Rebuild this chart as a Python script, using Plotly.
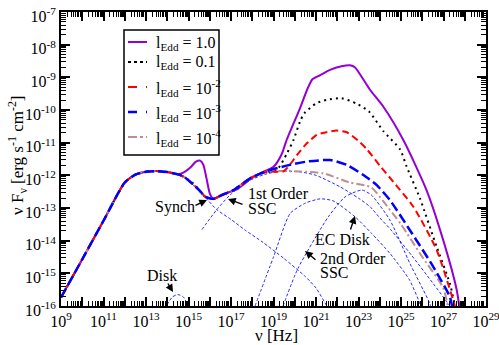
import numpy as np
import plotly.graph_objects as go

# ---------------- data (log10 nu [Hz], log10 nuFnu [erg s^-1 cm^-2]) ----------------
low_lognu = [9.0, 10.0, 11.0, 12.0, 12.5, 13.0, 13.5, 14.0, 14.5]
low_logf = [-15.74, -14.57, -13.39, -12.22, -11.98, -11.89, -11.87, -11.9, -11.97]

l1_lognu = [14.8, 15.1, 15.35, 15.55, 15.7, 15.85, 16.0, 16.17, 16.6, 17.27, 17.9, 18.37, 19.0, 19.4,
            19.6, 20.25, 20.6, 20.83, 21.2, 21.66, 22.2, 22.6, 22.84, 23.54, 24.17, 25.11, 26.2,
            26.99, 27.62, 27.74]
l1_logf = [-11.9, -11.75, -11.58, -11.55, -11.68, -12.1, -12.55, -12.72, -12.58, -12.43, -12.12, -11.94,
           -11.74, -11.33, -10.95, -9.94, -9.35, -9.06, -8.93, -8.77, -8.66, -8.63, -8.70, -9.38, -9.9,
           -10.92, -12.45, -13.99, -15.5, -16.0]

l01_lognu = [14.8, 15.23, 15.5, 15.78, 16.17, 16.6, 17.12, 17.9, 18.5, 19.15, 19.63, 19.94, 20.25,
             20.45, 21.0, 21.5, 22.2, 22.9, 23.5, 24.17, 24.95, 25.27, 25.89, 26.68, 27.3, 27.54]
l01_logf = [-12.06, -12.25, -12.45, -12.65, -12.72, -12.6, -12.45, -12.09, -11.93, -11.84, -11.33,
            -10.92, -10.35, -10.1, -9.8, -9.69, -9.64, -9.8, -10.05, -10.65, -11.2, -11.74, -12.7,
            -14.19, -15.31, -16.0]

l2_lognu = [14.8, 15.2, 15.5, 15.8, 16.17, 16.6, 17.12, 17.9, 18.68, 19.47, 19.8, 20.1, 20.57, 21.04,
            21.5, 21.98, 22.45, 23.0, 23.39, 24.0, 24.64, 25.58, 26.68, 27.54]
l2_logf = [-12.05, -12.27, -12.45, -12.66, -12.72, -12.6, -12.45, -12.09, -11.89, -11.88, -11.65,
           -11.38, -11.02, -10.76, -10.68, -10.63, -10.68, -10.95, -11.2, -11.7, -12.2, -12.96,
           -14.29, -16.0]

l3_lognu = [14.8, 15.2, 15.5, 15.8, 16.17, 16.6, 17.12, 17.9, 18.68, 19.78, 20.57, 21.66, 22.45,
            23.23, 23.86, 24.48, 25.42, 26.52, 27.3, 27.4]
l3_logf = [-12.05, -12.27, -12.45, -12.66, -12.72, -12.6, -12.45, -12.09, -11.87, -11.68, -11.58,
           -11.53, -11.68, -11.99, -12.3, -12.76, -13.68, -14.8, -15.72, -16.0]

l4_lognu = [14.8, 15.2, 15.5, 15.8, 16.17, 16.6, 17.12, 17.9, 18.68, 19.5, 20.3, 21.35, 22.6, 23.6,
            24.17, 25.0, 25.9, 26.99, 27.2]
l4_logf = [-12.05, -12.27, -12.45, -12.66, -12.72, -12.6, -12.45, -12.09, -11.89, -11.87, -11.88,
           -11.94, -12.22, -12.37, -12.8, -13.5, -14.4, -15.45, -16.0]

# components (thin dashed)
synch_lognu = low_lognu + [14.76, 15.0, 15.5, 15.8, 16.33, 17.0, 17.67, 18.5, 19.5, 20.5, 21.0, 21.5, 21.6]
synch_logf = low_logf + [-12.04, -12.18, -12.45, -12.68, -13.05, -13.35, -13.68, -14.05, -14.55, -15.1,
                         -15.45, -16.0, -16.2]

ssc1_lognu = [15.63, 16.33, 16.96, 17.9, 18.7, 19.5, 20.3, 21.0, 22.13, 23.0, 23.54, 24.0, 24.5, 25.5,
              26.5, 27.3, 27.4]
ssc1_logf = [-13.66, -13.05, -12.6, -12.15, -11.95, -11.87, -11.9, -12.0, -12.35, -12.7, -12.96, -13.3,
             -13.65, -14.45, -15.3, -16.0, -16.1]

ecd_lognu = [18.13, 19.0, 19.78, 20.5, 21.2, 21.8, 22.84, 23.62, 24.48, 25.4, 25.9, 26.0]
ecd_logf = [-16.0, -14.5, -13.17, -12.85, -12.72, -12.78, -13.27, -13.78, -14.39, -15.2, -15.95, -16.2]

ssc2_lognu = [19.45, 20.15, 21.58, 22.37, 23.16, 23.6, 24.48, 25.42, 26.36, 26.42]
ssc2_logf = [-16.0, -14.85, -13.27, -12.66, -12.45, -12.6, -13.37, -14.7, -15.93, -16.1]

disk_lognu = [13.9, 14.0, 14.25, 14.5, 14.75, 14.95, 15.02]
disk_logf = [-16.1, -15.95, -15.72, -15.65, -15.72, -15.95, -16.1]

legend_labels = ["l<sub>Edd</sub> = 1.0", "l<sub>Edd</sub> = 0.1", "l<sub>Edd</sub> = 10<sup>-2</sup>",
                 "l<sub>Edd</sub> = 10<sup>-3</sup>", "l<sub>Edd</sub> = 10<sup>-4</sup>"]

x_exponents = list(range(9, 30))
y_exponents = list(range(-16, -6))

# ---------------- styling ----------------
FONT = "Liberation Serif"
VIOLET = "rgb(148,0,211)"
BROWN = "rgb(188,143,143)"
RED = "rgb(255,0,0)"
BLUE = "rgb(0,0,255)"
THIN = dict(color="rgb(40,40,255)", width=1, dash="3px,2px")

W, H = 499, 345
ML, MR, MT, MB = 61, 13, 12, 39
PW, PH = W - ML - MR, H - MT - MB


def px(x):
    return (x - ML) / PW


def py(y):
    return 1 - (y - MT) / PH


fig = go.Figure()


def add(lognu, logf, line):
    fig.add_trace(go.Scatter(x=10 ** np.array(lognu), y=10 ** np.array(logf), mode="lines",
                             line=dict(shape="spline", smoothing=0.6, **line), showlegend=False,
                             hoverinfo="skip"))


# components first (underneath)
add(synch_lognu, synch_logf, THIN)
add(ssc1_lognu, ssc1_logf, THIN)
add(ecd_lognu, ecd_logf, THIN)
add(ssc2_lognu, ssc2_logf, THIN)
add(disk_lognu, disk_logf, THIN)

series = [
    (l1_lognu, l1_logf, dict(color=VIOLET, width=2)),
    (l01_lognu, l01_logf, dict(color="black", width=2, dash="2px,4px")),
    (l4_lognu, l4_logf, dict(color=BROWN, width=2, dash="8px,3px,2px,3px")),
    (l2_lognu, l2_logf, dict(color=RED, width=2, dash="7px,4px")),
    (l3_lognu, l3_logf, dict(color=BLUE, width=2.5, dash="10px,4px")),
]
for ln, lf, st in series:
    add(low_lognu + ln, low_logf + lf, st)

# ---------------- axes ----------------
xticktext = [f"10<sup>{e}</sup>" if e % 2 == 1 else "" for e in x_exponents]
yticktext = [f"10<sup>{e}</sup>" for e in y_exponents]

axis_common = dict(showline=True, linecolor="black", linewidth=2, mirror="allticks", ticks="inside",
                   ticklen=9, tickwidth=1.5, tickcolor="black", showgrid=False, zeroline=False,
                   automargin=False, ticklabeloverflow="allow",
                   tickfont=dict(family=FONT, size=16, color="black"),
                   minor=dict(ticks="inside", ticklen=5, tickwidth=1, tickcolor="black", dtick="D1",
                              showgrid=False))

fig.update_xaxes(type="log", range=[9, 29], tickmode="array",
                 tickvals=[10.0 ** e for e in x_exponents], ticktext=xticktext, **axis_common)
fig.update_yaxes(type="log", range=[-16, -7], tickmode="array", ticklabelshift=4,
                 tickvals=[10.0 ** e for e in y_exponents], ticktext=yticktext, **axis_common)

annotations = []
shapes = []

# axis titles
annotations.append(dict(x=px(276), y=py(336), xref="paper", yref="paper", showarrow=False,
                        xanchor="center", yanchor="middle",
                        text="ν [Hz]", font=dict(family=FONT, size=17, color="black")))
annotations.append(dict(x=px(17), y=py(155), xref="paper", yref="paper", showarrow=False, textangle=-90,
                        xanchor="center", yanchor="middle",
                        text="ν F<sub>ν</sub> [erg s<sup>-1</sup> cm<sup>-2</sup>]",
                        font=dict(family=FONT, size=17, color="black")))

# labels with arrows
lab_font = dict(family=FONT, size=16, color="black")


def label(text, tx, ty, xanchor="center"):
    annotations.append(dict(x=px(tx), y=py(ty), xref="paper", yref="paper", showarrow=False, text=text,
                            xanchor=xanchor, yanchor="middle", font=lab_font))


def arrow(hx, hy, tx, ty):
    annotations.append(dict(x=px(hx), y=py(hy), xref="paper", yref="paper", showarrow=True, text="",
                            ax=tx - hx, ay=ty - hy, arrowhead=2, arrowsize=1.1, arrowwidth=1.4,
                            arrowcolor="black"))


label("Synch", 175, 207)
arrow(207, 200, 194, 206)
label("1st Order", 246, 193, xanchor="left")
label("SSC", 246, 208, xanchor="left")
arrow(228, 199, 244, 205)
label("EC Disk", 342, 239)
arrow(355, 216, 350, 231)
label("2nd Order", 318, 258, xanchor="left")
label("SSC", 318, 272, xanchor="left")
arrow(305, 251, 317, 261)
label("Disk", 162, 275)
arrow(173, 292, 167, 282)

# manual legend
shapes.append(dict(type="rect", xref="paper", yref="paper", x0=px(124), x1=px(219), y0=py(155), y1=py(30),
                   line=dict(color="black", width=1.5), fillcolor="white", layer="above"))
legend_styles = [
    dict(color=VIOLET, width=2),
    dict(color="black", width=2, dash="dot"),
    dict(color=RED, width=2, dash="dash"),
    dict(color=BLUE, width=2.5, dash="dash"),
    dict(color=BROWN, width=2, dash="dashdot"),
]
row_y = [42, 62, 87, 112, 137]
for lab, st, yy in zip(legend_labels, legend_styles, row_y):
    shapes.append(dict(type="line", xref="paper", yref="paper", x0=px(128), x1=px(147), y0=py(yy), y1=py(yy),
                       line=st, layer="above"))
    annotations.append(dict(x=px(154), y=py(yy + 1), xref="paper", yref="paper", showarrow=False, text=lab,
                            xanchor="left", yanchor="middle", font=dict(family=FONT, size=16, color="black")))

fig.update_layout(width=W, height=H, margin=dict(l=ML, r=MR, t=MT, b=MB), plot_bgcolor="white",
                  paper_bgcolor="white", showlegend=False, annotations=annotations, shapes=shapes,
                  font=dict(family=FONT, color="black"))

fig.write_html("out.html", config={"displayModeBar": False},
               post_script="document.body.style.margin='0';document.body.style.padding='0';")
